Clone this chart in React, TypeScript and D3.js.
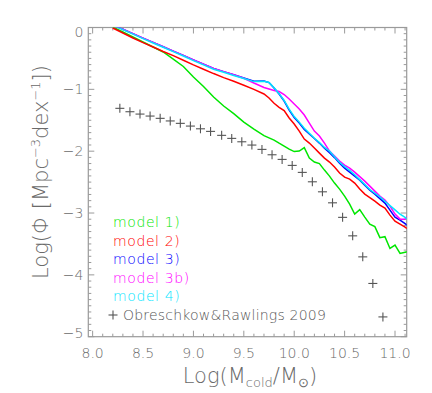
import * as d3 from 'd3';

// x grid shared by all model curves (log cold gas mass)
const modelX = [8.2, 8.3, 8.4, 8.5, 8.6, 8.7, 8.8, 8.9, 9.0, 9.1, 9.2, 9.3, 9.4, 9.5, 9.6, 9.7, 9.75, 9.8, 9.85, 9.9, 9.95, 10.0, 10.05, 10.1, 10.15, 10.2, 10.25, 10.3, 10.35, 10.4, 10.45, 10.5, 10.55, 10.6, 10.65, 10.7, 10.75, 10.8, 10.85, 10.9, 10.95, 11.0, 11.05, 11.1, 11.12];

const model1 = [0.008, -0.073, -0.154, -0.235, -0.316, -0.396, -0.51, -0.631, -0.801, -0.955, -1.125, -1.27, -1.392, -1.529, -1.642, -1.748, -1.785, -1.82, -1.87, -1.917, -1.966, -2.006, -1.998, -1.942, -2.112, -2.176, -2.201, -2.306, -2.403, -2.516, -2.613, -2.727, -2.856, -3.018, -2.945, -3.066, -3.18, -3.22, -3.398, -3.382, -3.573, -3.519, -3.654, -3.633, -3.628];
const model2 = [-0.008, -0.089, -0.17, -0.244, -0.316, -0.388, -0.455, -0.53, -0.605, -0.675, -0.745, -0.81, -0.87, -0.935, -1.0, -1.075, -1.14, -1.225, -1.29, -1.343, -1.464, -1.561, -1.675, -1.804, -1.869, -1.95, -2.031, -2.112, -2.176, -2.257, -2.354, -2.419, -2.451, -2.516, -2.613, -2.694, -2.751, -2.808, -2.872, -2.921, -3.034, -3.131, -3.18, -3.228, -3.252];
const model3 = [0.04, -0.029, -0.1, -0.172, -0.241, -0.312, -0.382, -0.451, -0.523, -0.592, -0.662, -0.714, -0.765, -0.817, -0.869, -0.866, -0.89, -0.979, -1.076, -1.189, -1.335, -1.456, -1.545, -1.65, -1.723, -1.796, -1.869, -1.95, -2.023, -2.104, -2.193, -2.274, -2.338, -2.403, -2.468, -2.549, -2.63, -2.694, -2.767, -2.84, -2.953, -3.066, -3.115, -3.172, -3.196];
const model3b = [0.04, -0.029, -0.1, -0.172, -0.241, -0.312, -0.382, -0.451, -0.523, -0.592, -0.662, -0.714, -0.765, -0.82, -0.898, -0.971, -0.995, -1.019, -1.036, -1.084, -1.157, -1.238, -1.319, -1.416, -1.545, -1.675, -1.756, -1.869, -1.998, -2.079, -2.16, -2.225, -2.273, -2.338, -2.411, -2.484, -2.565, -2.646, -2.727, -2.791, -2.888, -3.018, -3.099, -3.1, -3.058];
const model4 = [0.04, -0.035, -0.108, -0.18, -0.25, -0.32, -0.39, -0.46, -0.535, -0.605, -0.675, -0.725, -0.775, -0.825, -0.875, -0.87, -0.89, -0.975, -1.07, -1.18, -1.32, -1.44, -1.53, -1.63, -1.71, -1.79, -1.86, -1.94, -2.0, -2.09, -2.18, -2.25, -2.31, -2.38, -2.46, -2.54, -2.62, -2.68, -2.74, -2.81, -2.88, -2.95, -3.02, -3.07, -3.1];

// Obreschkow & Rawlings 2009 points
const obsX = [8.27, 8.37, 8.47, 8.57, 8.67, 8.77, 8.87, 8.97, 9.07, 9.17, 9.28, 9.38, 9.48, 9.58, 9.68, 9.78, 9.88, 9.98, 10.08, 10.18, 10.28, 10.38, 10.48, 10.58, 10.68, 10.78, 10.88];
const obsY = [-1.307, -1.362, -1.4, -1.432, -1.469, -1.511, -1.55, -1.594, -1.638, -1.68, -1.744, -1.793, -1.848, -1.901, -1.971, -2.058, -2.133, -2.23, -2.343, -2.495, -2.657, -2.835, -3.07, -3.369, -3.709, -4.139, -4.68];

const models = [
  { label: 'model  1)', values: model1, color: '#00e600' },
  { label: 'model  2)', values: model2, color: '#ff0000' },
  { label: 'model  3)', values: model3, color: '#0000ff' },
  { label: 'model  3b)', values: model3b, color: '#ff00ff' },
  { label: 'model  4)', values: model4, color: '#00e5ff' },
];

const xTicks = [8.0, 8.5, 9.0, 9.5, 10.0, 10.5, 11.0];
const yTicks = [0, -1, -2, -3, -4, -5];

const W = 432;
const H = 393;
const left = 88.3;
const right = 406.7;
const top = 27.5;
const bottom = 336.7;
const axisColor = '#9a9a9a';
const textColor = '#6a6a6a';
const font = '"DejaVu Sans", sans-serif';

export default function App() {
  const x = d3.scaleLinear().domain([7.957, 11.116]).range([left, right]);
  const y = d3.scaleLinear().domain([-5, 0]).range([bottom, top]);

  const line = d3.line<number>()
    .x((_, i) => x(modelX[i]))
    .y(d => y(d));

  const xMinor = d3.range(80, 112).map(v => v / 10);
  const yMinor = d3.range(-50, 1).map(v => v / 10);

  return (
    <svg width={W} height={H} style={{ position: 'absolute', left: 0, top: 0, background: '#fff' }}>
      <defs>
        <clipPath id="plot">
          <rect x={left} y={top} width={right - left} height={bottom - top} />
        </clipPath>
      </defs>

      {/* ticks, inward on all four sides */}
      <g stroke={axisColor} strokeWidth={1}>
        {xMinor.map(v => {
          const major = Math.abs(v * 2 - Math.round(v * 2)) < 1e-6;
          const len = major ? 6 : 3;
          return (
            <g key={'xt' + v}>
              <line x1={x(v)} x2={x(v)} y1={bottom} y2={bottom - len} />
              <line x1={x(v)} x2={x(v)} y1={top} y2={top + len} />
            </g>
          );
        })}
        {yMinor.map(v => {
          const major = Math.abs(v - Math.round(v)) < 1e-6;
          const len = major ? 6 : 3;
          return (
            <g key={'yt' + v}>
              <line x1={left} x2={left + len} y1={y(v)} y2={y(v)} />
              <line x1={right} x2={right - len} y1={y(v)} y2={y(v)} />
            </g>
          );
        })}
        <rect x={left} y={top} width={right - left} height={bottom - top} fill="none" strokeWidth={1.2} />
      </g>

      {/* tick labels */}
      <g fill={textColor} fontFamily={font} fontSize={14} fontWeight={200}>
        {xTicks.map(v => (
          <text key={'xl' + v} x={x(v)} y={bottom + 21.5} textAnchor="middle">{v.toFixed(1)}</text>
        ))}
        {yTicks.map(v => {
          let dy = 5;
          if (v === 0) dy = 9;
          if (v === -5) dy = 1;
          return (
            <text key={'yl' + v} x={left - 5} y={y(v) + dy} textAnchor="end">
              {v === 0 ? '0' : '\u2212' + Math.abs(v)}
            </text>
          );
        })}
      </g>

      {/* axis titles */}
      <text x={250} y={383} textAnchor="middle" fill={textColor} fontFamily={font} fontSize={21} fontWeight={200}>
        Log(M<tspan fontSize={13} dy={4}>cold</tspan><tspan dy={-4}>/M</tspan><tspan fontSize={13} dy={4}>{'\u2299'}</tspan><tspan dy={-4}>)</tspan>
      </text>
      <text transform="translate(48,172) rotate(-90)" textAnchor="middle" fill={textColor} fontFamily={font} fontSize={21} fontWeight={200}>
        Log({'\u03A6'} [Mpc<tspan fontSize={13} dy={-8}>{'\u2212'}3</tspan><tspan dy={8}>dex</tspan><tspan fontSize={13} dy={-8}>{'\u2212'}1</tspan><tspan dy={8}>])</tspan>
      </text>

      {/* model curves */}
      <g clipPath="url(#plot)" fill="none" strokeWidth={1.5}>
        {models.map(m => (
          <path key={m.label} d={line(m.values) ?? ''} stroke={m.color} />
        ))}
      </g>

      {/* observational points */}
      <g stroke="#555" strokeWidth={1.1}>
        {obsX.map((v, i) => (
          <g key={'o' + i} transform={`translate(${x(v)},${y(obsY[i])})`}>
            <line x1={-4.5} x2={4.5} y1={0} y2={0} />
            <line x1={0} x2={0} y1={-4.5} y2={4.5} />
          </g>
        ))}
      </g>

      {/* legend */}
      <g fontFamily={font} fontSize={14} fontWeight={200} letterSpacing={0.6} style={{ whiteSpace: 'pre' }}>
        {models.map((m, i) => (
          <text key={'lg' + m.label} x={113} y={227 + i * 18.6} fill={m.color}>{m.label}</text>
        ))}
        <g stroke="#555" strokeWidth={1.1} transform="translate(113,315)">
          <line x1={-4.5} x2={4.5} y1={0} y2={0} />
          <line x1={0} x2={0} y1={-4.5} y2={4.5} />
        </g>
        <text x={123} y={320} fill="#555" letterSpacing={0.2}>Obreschkow&amp;Rawlings 2009</text>
      </g>
    </svg>
  );
}
